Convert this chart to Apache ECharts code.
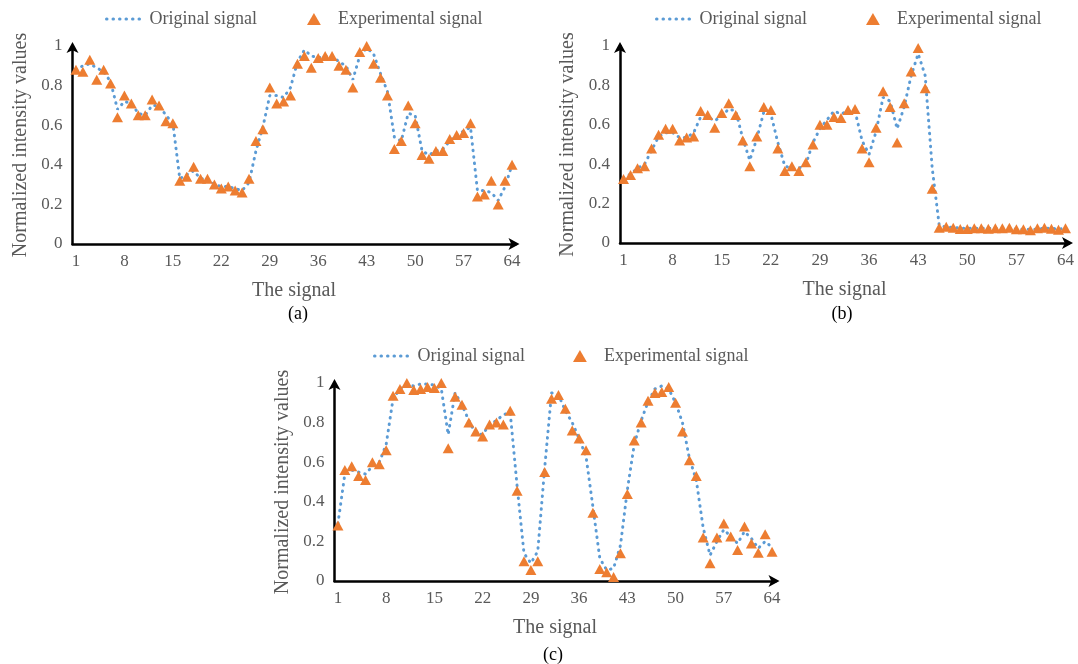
<!DOCTYPE html>
<html>
<head>
<meta charset="utf-8">
<script src="https://cdn.jsdelivr.net/npm/echarts@6/dist/echarts.min.js"></script>
<style>
html,body{margin:0;padding:0;background:#fff;}
#chart{width:1078px;height:664px;}
</style>
</head>
<body>
<div id="chart"></div>
<script>
// ---- data ----
const categories = Array.from({length: 64}, (_, i) => String(i + 1));
const yTicks = [0, 0.2, 0.4, 0.6, 0.8, 1];

const originalA = [0.88,0.90,0.91,0.89,0.87,0.82,0.68,0.72,0.71,0.66,0.65,0.70,0.70,0.65,0.61,0.33,0.35,0.37,0.33,0.33,0.30,0.29,0.29,0.28,0.27,0.31,0.47,0.59,0.75,0.75,0.74,0.79,0.92,0.98,0.95,0.94,0.95,0.95,0.92,0.90,0.83,0.95,0.99,0.96,0.86,0.77,0.54,0.52,0.66,0.65,0.47,0.45,0.47,0.48,0.52,0.55,0.57,0.59,0.27,0.27,0.26,0.22,0.29,0.40];
const experimentalA = [0.88,0.87,0.93,0.83,0.88,0.81,0.64,0.75,0.71,0.65,0.65,0.73,0.70,0.62,0.61,0.32,0.34,0.39,0.33,0.33,0.30,0.28,0.29,0.27,0.26,0.33,0.52,0.58,0.79,0.71,0.72,0.75,0.91,0.95,0.89,0.94,0.95,0.95,0.90,0.88,0.79,0.97,1.00,0.91,0.84,0.75,0.48,0.52,0.70,0.61,0.45,0.43,0.47,0.47,0.53,0.55,0.56,0.61,0.24,0.25,0.32,0.20,0.32,0.40];

const originalB = [0.33,0.35,0.38,0.40,0.47,0.54,0.56,0.56,0.535,0.535,0.56,0.64,0.64,0.62,0.645,0.68,0.67,0.53,0.42,0.53,0.665,0.655,0.51,0.39,0.38,0.38,0.40,0.51,0.58,0.625,0.67,0.655,0.67,0.67,0.52,0.45,0.565,0.74,0.72,0.58,0.69,0.85,0.96,0.85,0.38,0.09,0.08,0.08,0.075,0.075,0.075,0.075,0.075,0.075,0.075,0.075,0.07,0.07,0.07,0.07,0.075,0.075,0.07,0.075];
const experimentalB = [0.325,0.345,0.38,0.39,0.48,0.55,0.58,0.58,0.52,0.535,0.54,0.67,0.65,0.585,0.66,0.71,0.65,0.52,0.39,0.54,0.69,0.675,0.48,0.365,0.39,0.365,0.41,0.50,0.60,0.60,0.64,0.635,0.675,0.68,0.48,0.41,0.585,0.77,0.69,0.51,0.71,0.87,0.99,0.785,0.275,0.078,0.083,0.078,0.071,0.071,0.075,0.075,0.072,0.075,0.075,0.078,0.07,0.07,0.065,0.075,0.078,0.072,0.067,0.075];

const originalC = [0.29,0.54,0.56,0.55,0.54,0.58,0.60,0.69,0.92,0.97,0.99,0.985,0.995,0.995,0.99,0.97,0.74,0.95,0.89,0.81,0.745,0.74,0.79,0.81,0.84,0.85,0.48,0.14,0.09,0.15,0.57,0.95,0.94,0.86,0.80,0.72,0.63,0.375,0.115,0.055,0.064,0.18,0.46,0.69,0.81,0.905,0.97,0.985,0.97,0.90,0.80,0.62,0.51,0.27,0.13,0.20,0.26,0.225,0.19,0.25,0.215,0.165,0.20,0.17];
const experimentalC = [0.28,0.56,0.58,0.53,0.51,0.60,0.59,0.66,0.935,0.97,1.00,0.965,0.97,0.98,0.975,1.00,0.67,0.93,0.89,0.80,0.755,0.73,0.79,0.80,0.79,0.86,0.456,0.10,0.056,0.10,0.55,0.92,0.94,0.87,0.76,0.72,0.66,0.345,0.06,0.044,0.02,0.14,0.44,0.71,0.80,0.91,0.95,0.955,0.98,0.90,0.755,0.61,0.53,0.22,0.09,0.22,0.29,0.225,0.157,0.275,0.19,0.143,0.236,0.148];

const captions = ['(a)', '(b)', '(c)'];
const seriesNames = ['Original signal', 'Experimental signal'];

// ---- styling / layout ----
const FONT = '"Liberation Serif", "Times New Roman", serif';
const TEXT = '#595959';
const BLUE = '#5B9BD5';
const ORANGE = '#ED7D31';
const TRI = 'path://M6,0L12,10.4L0,10.4Z';

const panels = [
  {grid: {left: 72.5, top: 46, width: 443, height: 198}, orig: originalA, exp: experimentalA,
   legend: [105, 307], legendTop: 10, caption: {x: 298, y: 314}},
  {grid: {left: 620, top: 46, width: 449, height: 197}, orig: originalB, exp: experimentalB,
   legend: [655, 866], legendTop: 10, caption: {x: 842, y: 314}},
  {grid: {left: 334.5, top: 383, width: 441, height: 198}, orig: originalC, exp: experimentalC,
   legend: [373, 573], legendTop: 347, caption: {x: 553, y: 655}}
];

const option = {
  backgroundColor: '#fff',
  animation: false,
  textStyle: {fontFamily: FONT},
  grid: [], xAxis: [], yAxis: [], series: [], legend: [], graphic: []
};

panels.forEach((p, k) => {
  option.grid.push(Object.assign({containLabel: false}, p.grid));
  option.xAxis.push({
    type: 'category', gridIndex: k, data: categories, boundaryGap: true,
    name: 'The signal', nameLocation: 'middle', nameGap: 37,
    nameTextStyle: {fontFamily: FONT, fontSize: 20, color: TEXT},
    axisLine: {show: true, lineStyle: {color: '#000', width: 2.5}, symbol: ['none', 'arrow'], symbolSize: [9, 11], symbolOffset: [0, 4]},
    axisTick: {show: false},
    axisLabel: {interval: 6, fontFamily: FONT, fontSize: 17, color: TEXT, margin: 9},
    splitLine: {show: false}
  });
  option.yAxis.push({
    type: 'value', gridIndex: k, min: 0, max: 1, interval: 0.2,
    name: 'Normalized intensity values', nameLocation: 'middle', nameGap: 42,
    nameTextStyle: {fontFamily: FONT, fontSize: 20, color: TEXT},
    axisLine: {show: true, onZero: false, lineStyle: {color: '#000', width: 2.5}, symbol: ['none', 'arrow'], symbolSize: [9, 11], symbolOffset: [0, 4]},
    axisTick: {show: false},
    axisLabel: {fontFamily: FONT, fontSize: 17, color: TEXT, margin: 10,
      formatter: v => yTicks.includes(Math.round(v * 10) / 10) ? String(Math.round(v * 10) / 10) : ''},
    splitLine: {show: false}
  });
  option.series.push({
    name: seriesNames[0], type: 'line', xAxisIndex: k, yAxisIndex: k,
    data: p.orig, symbol: 'none', smooth: false,
    lineStyle: {color: BLUE, width: 3, type: [0.5, 6], cap: 'round'},
    itemStyle: {color: BLUE}, z: 2
  });
  option.series.push({
    name: seriesNames[1], type: 'scatter', xAxisIndex: k, yAxisIndex: k,
    data: p.exp, symbol: 'triangle', symbolSize: [11, 10],
    itemStyle: {color: ORANGE, opacity: 1}, z: 3
  });
  option.legend.push({
    data: [{name: seriesNames[0], itemStyle: {color: 'rgba(0,0,0,0)', borderWidth: 0, opacity: 0}}],
    left: p.legend[0], top: p.legendTop, padding: 0, itemWidth: 38, itemHeight: 12,
    selectedMode: false,
    lineStyle: {color: BLUE, width: 3, type: [0.5, 6], cap: 'round'},
    textStyle: {fontFamily: FONT, fontSize: 18, color: TEXT}
  });
  option.legend.push({
    data: [{name: seriesNames[1], icon: TRI}],
    left: p.legend[1], top: p.legendTop, padding: 0, itemWidth: 38, itemHeight: 12,
    symbolKeepAspect: true, selectedMode: false,
    itemStyle: {color: ORANGE, opacity: 1},
    textStyle: {fontFamily: FONT, fontSize: 18, color: TEXT}
  });
  option.graphic.push({
    type: 'text', x: p.caption.x, y: p.caption.y,
    style: {text: captions[k], font: '18px ' + FONT, fill: '#000', align: 'center', verticalAlign: 'middle'}
  });
});

const chart = echarts.init(document.getElementById('chart'), null, {renderer: 'canvas'});
chart.setOption(option);
</script>
</body>
</html>
